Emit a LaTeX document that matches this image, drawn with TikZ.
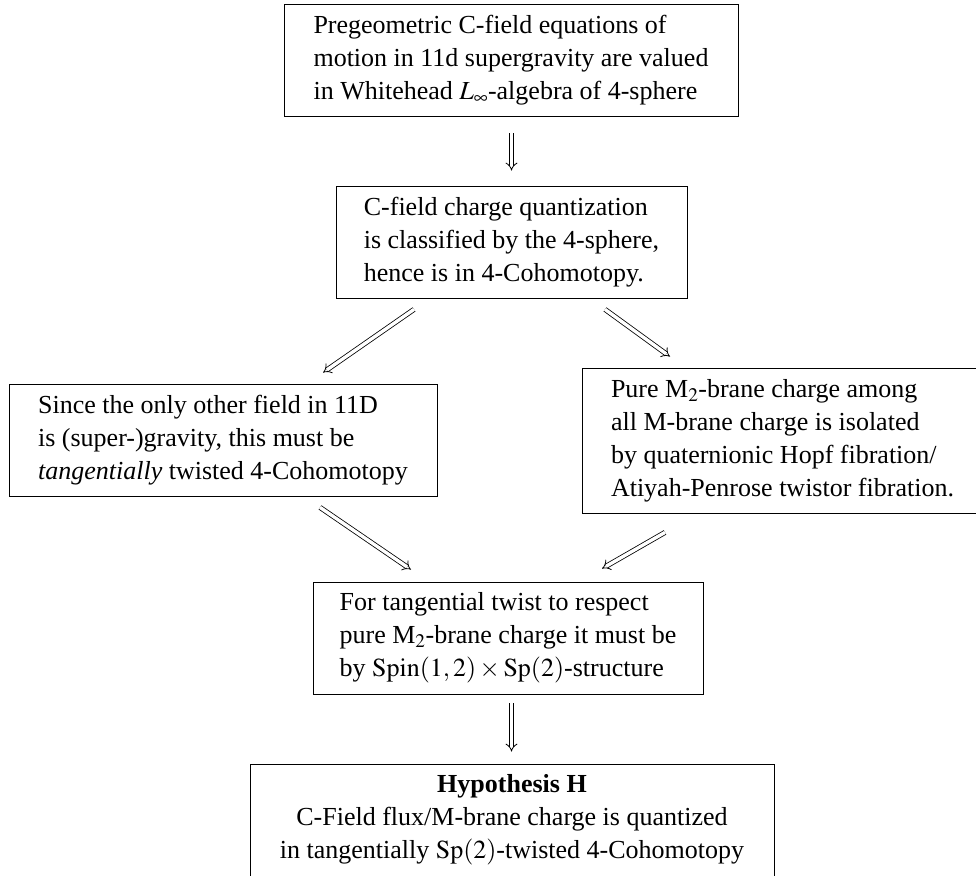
\documentclass[tikz,border=0pt]{standalone}
\usepackage{mathptmx}
\usepackage[no-math]{fontspec}
\setmainfont{Liberation Serif}
\usetikzlibrary{arrows.meta}
\begin{document}
\begin{tikzpicture}[x=1pt,y=-1pt,
  box/.style={draw, line width=0.8pt, align=left, inner sep=0pt,
    font=\fontsize{26}{33}\selectfont},
  imp/.style={double, double distance=3.4pt, line width=0.8pt, -{Implies[scale=1.3]}}]
\useasboundingbox (0,0) rectangle (976,875);
\node[box, minimum width=454, minimum height=112] (b1) at (511,60)
  {Pregeometric C-field equations of\\motion in 11d supergravity are valued\\in Whitehead $L_\infty$-algebra of 4-sphere};
\node[box, minimum width=351, minimum height=112] (b2) at (511.5,242)
  {C-field charge quantization\\is classified by the 4-sphere,\\hence is in 4-Cohomotopy.};
\node[box, minimum width=428, minimum height=112] (b3) at (223,440)
  {Since the only other field in 11D\\is (super-)gravity, this must be\\\textit{tangentially} twisted 4-Cohomotopy};
\node[box, minimum width=401, minimum height=145] (b4) at (782.5,440.5)
  {Pure M$_2$-brane charge among\\all M-brane charge is isolated\\by quaternionic Hopf fibration/\\Atiyah-Penrose twistor fibration.};
\node[box, minimum width=390, minimum height=112] (b5) at (508,638)
  {For tangential twist to respect\\pure M$_2$-brane charge it must be\\by $\mathrm{Spin}(1,2)\times\mathrm{Sp}(2)$-structure};
\node[box, align=center, minimum width=524, minimum height=112] (b6) at (512,820)
  {\textbf{Hypothesis H}\\C-Field flux/M-brane charge is quantized\\in tangentially $\mathrm{Sp}(2)$-twisted 4-Cohomotopy};
\path (b1.south) ++(0.5,17) coordinate (v1s);
\path (b2.north) ++(0,-15) coordinate (v1e);
\path (b5.south) ++(3.5,9) coordinate (v2s);
\path (b6.north) ++(-0.5,-12) coordinate (v2e);
\draw[imp] (v1s) -- (v1e);
\draw[imp] ([shift={(-97.5,11)}]b2.south) -- ([shift={(100,-11)}]b3.north);
\draw[imp] ([shift={(93.5,11)}]b2.south) -- ([shift={(-112.5,-11)}]b4.north);
\draw[imp] ([shift={(97,11)}]b3.south) -- ([shift={(-97,-12)}]b5.north);
\draw[imp] ([shift={(-117.5,19)}]b4.south) -- ([shift={(94,-13)}]b5.north);
\draw[imp] (v2s) -- (v2e);
\end{tikzpicture}
\end{document}
